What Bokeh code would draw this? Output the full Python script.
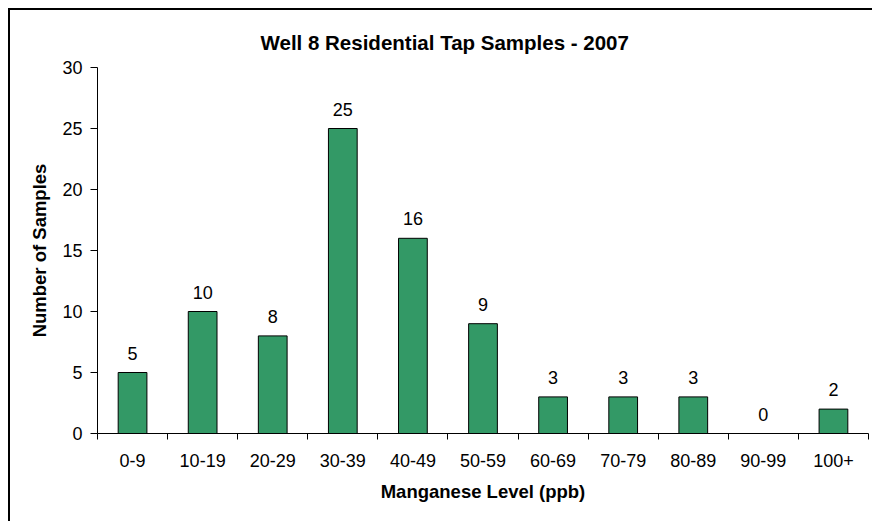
from bokeh.plotting import figure
from bokeh.models import ColumnDataSource, FixedTicker, Range1d, LabelSet
from bokeh.core.properties import value
from bokeh.embed import file_html
from bokeh.resources import INLINE

categories = ["0-9", "10-19", "20-29", "30-39", "40-49", "50-59",
              "60-69", "70-79", "80-89", "90-99", "100+"]
counts = [5, 10, 8, 25, 16, 9, 3, 3, 3, 0, 2]
y_ticks = [0, 5, 10, 15, 20, 25, 30]

n = len(categories)
xs = list(range(n))
src = ColumnDataSource(dict(x=xs, top=counts, label=[str(c) for c in counts]))

FONT = "Liberation Sans"

p = figure(width=864, height=513, output_backend="svg", toolbar_location=None,
           x_range=Range1d(-0.5, n - 0.5), y_range=Range1d(0, 30),
           min_border_left=87, min_border_right=6, min_border_top=57,
           min_border_bottom=90, title="Well 8 Residential Tap Samples - 2007")
p.styles = {"margin-left": "8px", "margin-top": "8px",
            "border-left": "2px solid black", "border-top": "2px solid black"}

p.vbar(x="x", top="top", width=0.41, source=src,
       fill_color="#339966", line_color="black", line_width=1)

labels = LabelSet(x="x", y="top", text="label", source=src, y_offset=13,
                  text_align="center", text_baseline="alphabetic",
                  text_font=value(FONT), text_font_size="18px", text_color="black")
p.add_layout(labels)

p.title.align = "left"
p.title.offset = 163
p.title.text_font = FONT
p.title.text_font_size = "20.5px"
p.title.text_font_style = "bold"
p.title.text_color = "black"
p.title.standoff = 27

p.xgrid.visible = False
p.ygrid.visible = False
p.outline_line_color = None
p.background_fill_color = "white"
p.border_fill_color = "white"

xa = p.xaxis[0]
xa.ticker = FixedTicker(ticks=xs, minor_ticks=[i - 0.5 for i in range(n + 1)])
xa.major_label_overrides = {i: c for i, c in enumerate(categories)}
xa.major_tick_out = 6
xa.major_tick_in = 0
xa.minor_tick_line_color = "black"
xa.minor_tick_out = 6
xa.minor_tick_in = 0
xa.major_label_standoff = 14
xa.axis_label = "Manganese Level (ppb)"
xa.axis_label_standoff = 11

ya = p.yaxis[0]
ya.ticker = FixedTicker(ticks=y_ticks)
ya.major_tick_out = 7
ya.major_tick_in = 0
ya.minor_tick_line_color = None
ya.major_label_standoff = 8
ya.axis_label = "Number of Samples"
ya.axis_label_standoff = 9

for ax in (xa, ya):
    ax.axis_line_color = "black"
    ax.axis_line_width = 1
    ax.major_label_text_font = FONT
    ax.major_label_text_font_size = "18px"
    ax.major_label_text_color = "black"
    ax.axis_label_text_font = FONT
    ax.axis_label_text_font_size = "18.5px"
    ax.axis_label_text_font_style = "bold"
    ax.axis_label_text_color = "black"
xa.major_tick_line_color = None
ya.major_tick_line_color = "black"

open("out.html", "w").write(file_html(p, INLINE))
